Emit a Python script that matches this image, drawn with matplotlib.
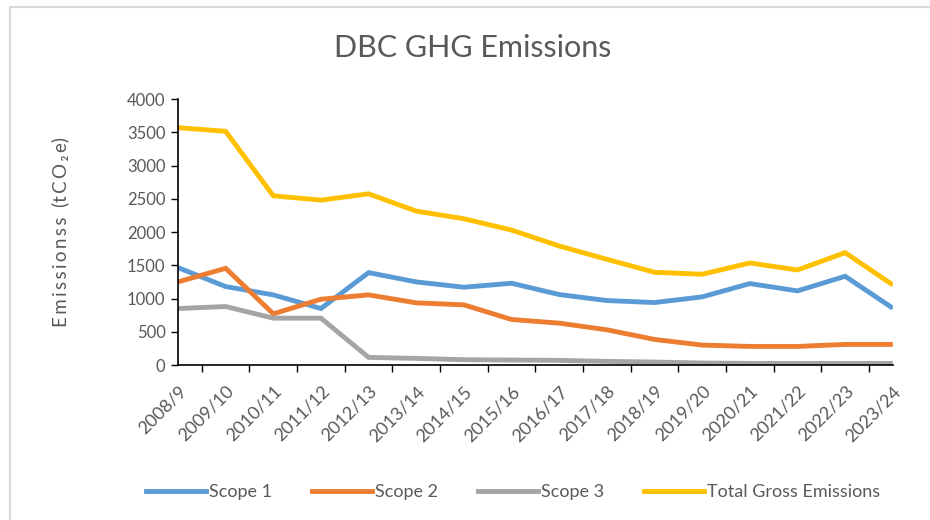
import matplotlib
matplotlib.use("Agg")
import matplotlib.pyplot as plt
from matplotlib.lines import Line2D

years = ["2008/9", "2009/10", "2010/11", "2011/12", "2012/13", "2013/14",
         "2014/15", "2015/16", "2016/17", "2017/18", "2018/19", "2019/20",
         "2020/21", "2021/22", "2022/23", "2023/24"]
scope1 = [1465, 1180, 1055, 850, 1390, 1250, 1170, 1230, 1060, 970, 940,
          1025, 1225, 1115, 1335, 855]
scope2 = [1250, 1455, 770, 990, 1055, 935, 905, 685, 630, 530, 385,
          300, 280, 280, 310, 310]
scope3 = [850, 880, 705, 705, 115, 100, 80, 75, 70, 55, 45,
          30, 25, 25, 25, 25]
total = [3570, 3515, 2545, 2480, 2575, 2315, 2200, 2030, 1790, 1590, 1395,
         1365, 1535, 1430, 1690, 1205]

series = [("Scope 1", scope1, "#5B9BD5"),
          ("Scope 2", scope2, "#ED7D31"),
          ("Scope 3", scope3, "#A5A5A5"),
          ("Total Gross Emissions", total, "#FFC000")]

plt.rcParams["font.family"] = ["Lato", "DejaVu Sans"]
txt = "#595959"

fig = plt.figure(figsize=(9.3, 5.2), dpi=100)
ax = fig.add_axes([0.1914, 0.298, 0.7686, 0.5115])

x = list(range(len(years)))
for name, vals, col in series:
    ax.plot(x, vals, color=col, lw=3.5, solid_capstyle="butt",
            solid_joinstyle="miter", label=name)

ax.set_xlim(0, len(years) - 1)
ax.set_ylim(0, 4000)
ax.set_yticks(range(0, 4001, 500))
ax.set_xticks(x)
ax.set_xticklabels(years, rotation=45, ha="right", rotation_mode="anchor")
ax.set_xticks([i + 0.5 for i in range(len(years) - 1)] + [len(years) - 1],
              minor=True)
ax.tick_params(axis="x", which="major", length=0, pad=13, labelsize=13,
               labelcolor=txt)
ax.tick_params(axis="x", which="minor", length=5, width=1, color="black",
               direction="out")
ax.tick_params(axis="y", length=5, width=1, color="black", labelsize=12,
               labelcolor=txt, pad=4)
for s in ("top", "right"):
    ax.spines[s].set_visible(False)
for s in ("left", "bottom"):
    ax.spines[s].set_color("black")
    ax.spines[s].set_linewidth(1.2)

ylab = "\u2009".join("Emissionss") + "  (" + "\u2009".join("tCO₂e") + ")"
ax.set_ylabel(ylab, fontsize=13.5, color=txt, labelpad=42)
fig.text(0.508, 0.908, "DBC GHG Emissions", ha="center", va="center",
         fontsize=22, color=txt)

handles = [Line2D([0], [0], color=c, lw=3.5) for _, _, c in series]
fig.legend(handles, [n for n, _, _ in series], loc="center",
           bbox_to_anchor=(0.552, 0.053), ncol=4, frameon=False,
           fontsize=13, labelcolor=txt, handlelength=3.3,
           handletextpad=0.2, columnspacing=2.2)

# chart area frame (top and left edges visible in the reference)
fig.add_artist(Line2D([10 / 930, 10 / 930], [0, 1 - 7 / 520],
                      color="#D9D9D9", lw=1.5, transform=fig.transFigure))
fig.add_artist(Line2D([10 / 930, 1], [1 - 7 / 520, 1 - 7 / 520],
                      color="#D9D9D9", lw=1.5, transform=fig.transFigure))

fig.savefig("out.png", dpi=100)
